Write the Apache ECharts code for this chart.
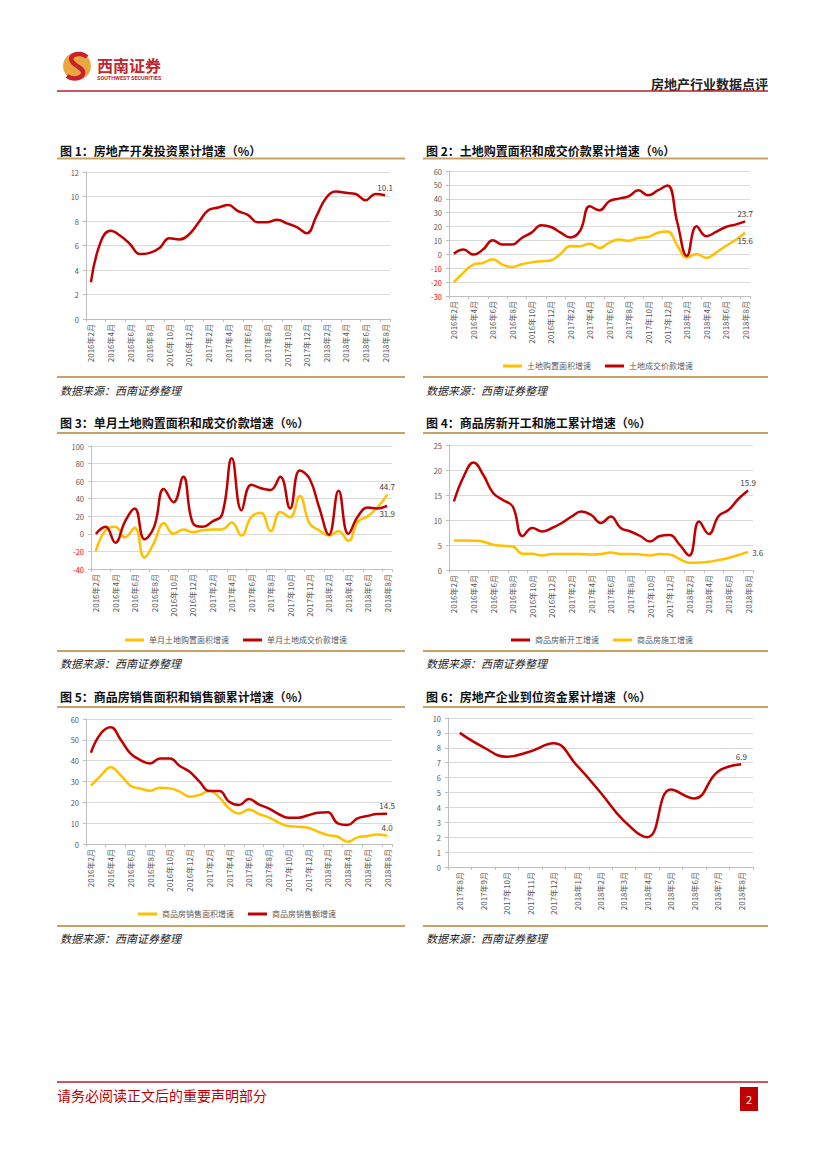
<!DOCTYPE html>
<html><head><meta charset="utf-8">
<script src="https://cdn.jsdelivr.net/npm/echarts@6/dist/echarts.min.js"></script>
<style>html,body{margin:0;padding:0;background:#fff}#c{width:827px;height:1169px}</style>
</head><body><div id="c"></div>
<script>
// ---------- data ----------
const months = ['2016年2月','2016年3月','2016年4月','2016年5月','2016年6月','2016年7月','2016年8月','2016年9月','2016年10月','2016年11月','2016年12月',
  '2017年1月','2017年2月','2017年3月','2017年4月','2017年5月','2017年6月','2017年7月','2017年8月','2017年9月','2017年10月','2017年11月','2017年12月',
  '2018年1月','2018年2月','2018年3月','2018年4月','2018年5月','2018年6月','2018年7月','2018年8月'];
const months6 = ['2017年8月','2017年9月','2017年10月','2017年11月','2017年12月','2018年1月','2018年2月','2018年3月','2018年4月','2018年5月','2018年6月','2018年7月','2018年8月'];

const invest = [3.0,6.3,7.2,6.8,6.1,5.3,5.4,5.8,6.6,6.5,6.9,7.9,8.9,9.1,9.3,8.8,8.5,7.9,7.9,8.1,7.8,7.5,7.0,8.4,9.9,10.4,10.3,10.2,9.7,10.2,10.1];

const landArea = [-20,-13.2,-7.4,-6.2,-3.6,-7.4,-9.1,-7.2,-5.8,-5.0,-4.3,0.5,6.0,5.8,7.7,4.6,8.4,10.6,9.8,11.8,12.5,15.5,16.5,6.5,-2.2,0.2,-2.6,1.2,6.0,10.3,15.6];
const landPrice = [0.5,3.4,-0.2,3.4,10.1,7.0,7.0,11.8,15.6,20.9,19.7,15.6,12.2,17,34.6,31.7,38.2,40.1,41.8,46.1,42.5,46,49.5,23.3,-1.2,20.2,13.0,16.1,19.7,21.4,23.7];

const mLandArea = [-20,4,8,-4,7,-27,-10,12,0,5,2,4,5,5,13,-2,19,24,3,25,19,43,12,4,-2,3,-8,14,20,30,44.7];
const mLandPrice = [0,8,-10,14,29,-6,8,51,36,65,12,8,14,22,86,27,56,52,50,65,29,72,63,30,-1,49,0,20,30,29,31.9];

const newStart = [13.7,18.7,21.5,19.0,15.4,14.0,12.7,6.8,8.4,7.7,8.4,9.4,10.7,11.7,11.0,9.4,10.7,8.4,7.7,6.8,5.7,6.8,7.0,5.1,2.9,9.7,7.2,10.8,12.0,14.2,15.9];
const underConst = [5.9,5.9,5.85,5.65,5.05,4.85,4.7,3.25,3.25,2.9,3.2,3.2,3.2,3.2,3.1,3.2,3.5,3.2,3.2,3.1,2.9,3.2,3.1,2.2,1.45,1.5,1.65,2.0,2.4,3.0,3.6];

const salesArea = [28.0,32.8,36.8,33.1,28.0,26.6,25.6,27.0,26.7,25.1,22.7,23.5,25.6,22.4,17.1,14.7,16.6,14.4,12.8,10.4,8.6,8.3,7.8,5.9,4.3,3.5,1.1,3.2,3.8,4.6,4.0];
const salesAmt = [43.8,53.0,56.0,50.2,43.5,40.3,38.7,41.1,41.1,37.4,34.7,29.9,25.4,25.4,20.3,18.7,21.6,19.0,17.1,14.4,12.6,12.6,13.8,15.0,15.2,9.9,9.1,12.3,13.4,14.4,14.5];

const funds = [9.0,8.05,7.4,7.75,8.3,6.8,5.0,3.1,2.0,5.2,4.6,6.4,6.9];

const titles = ['图 1：房地产开发投资累计增速（%）','图 2：土地购置面积和成交价款累计增速（%）','图 3：单月土地购置面积和成交价款增速（%）',
  '图 4：商品房新开工和施工累计增速（%）','图 5：商品房销售面积和销售额累计增速（%）','图 6：房地产企业到位资金累计增速（%）'];

// ---------- style ----------
const RED = '#C00000', YEL = '#FFC000', GOLD = '#C9A266', GRAY = '#595959', GRID = '#D9D9D9';
const FF = '"Noto Sans CJK SC", "Noto Sans", sans-serif';

const grids = [
  {left:86, top:172, width:304, height:147},
  {left:449, top:171, width:301, height:125},
  {left:91, top:446, width:301, height:123},
  {left:449, top:445, width:304, height:125},
  {left:86, top:719, width:306, height:125},
  {left:448, top:718, width:305, height:149}
];
const yCfg = [[0,12,2],[-30,60,10],[-40,100,20],[0,25,5],[0,60,10],[0,10,1]];

const xAxes = grids.map((g,i)=>({
  type:'category', gridIndex:i, data: i===5 ? months6 : months, boundaryGap:true,
  axisLine:{onZero:false, lineStyle:{color:'#BFBFBF'}},
  axisTick:{show:true, length:3, interval: i===5 ? 0 : 1, lineStyle:{color:'#BFBFBF'}},
  axisLabel:{rotate:90, interval: i===5 ? 0 : 1, fontSize: 8, color:GRAY, margin:5, fontFamily:FF}
}));
const yAxes = yCfg.map((c,i)=>({
  type:'value', gridIndex:i, min:c[0], max:c[1], interval:c[2],
  axisLine:{show:true, lineStyle:{color:'#BFBFBF'}},
  axisTick:{show:true, length:3, lineStyle:{color:'#BFBFBF'}},
  splitLine:{lineStyle:{color:GRID}},
  axisLabel:{fontSize:7.5, margin:7, fontFamily:FF, color:(v)=> Number(v) < 0 ? '#FF0000' : GRAY}
}));

const LBL = {fontSize:8, color:'#404040', fontFamily:FF, distance:4, textBorderWidth:0};
function lastLabel(arr, pos, fmt){
  return arr.map((v,i)=> i===arr.length-1 ? {value:v, label:Object.assign({show:true, position:pos, formatter: fmt}, LBL)} : v);
}
function ser(name, data, color, idx, pos, fmt){
  return {name, type:'line', xAxisIndex:idx, yAxisIndex:idx, data:lastLabel(data,pos,fmt), smooth:0.45,
    symbol:'circle', symbolSize:0.1, showSymbol:true, showAllSymbol:true,
    lineStyle:{width:2.5, color}, itemStyle:{color}, label:Object.assign({show:false}, LBL), z:3};
}
const series = [
  ser('房地产开发投资累计增速', invest, RED, 0, 'top', '10.1'),
  ser('土地购置面积增速', landArea, YEL, 1, 'bottom', '15.6'),
  ser('土地成交价款增速', landPrice, RED, 1, 'top', '23.7'),
  ser('单月土地购置面积增速', mLandArea, YEL, 2, 'top', '44.7'),
  ser('单月土地成交价款增速', mLandPrice, RED, 2, 'bottom', '31.9'),
  ser('商品房新开工增速', newStart, RED, 3, 'top', '15.9'),
  ser('商品房施工增速', underConst, YEL, 3, 'right', '3.6'),
  ser('商品房销售面积增速', salesArea, YEL, 4, 'top', '4.0'),
  ser('商品房销售额增速', salesAmt, RED, 4, 'top', '14.5'),
  ser('房地产企业到位资金累计增速', funds, RED, 5, 'top', '6.9')
];

function leg(names, left, top){
  return {data:names, left, top, icon:'rect', itemWidth:19, itemHeight:3, itemGap:14,
    textStyle:{fontSize:8, color:GRAY, fontFamily:FF}, selectedMode:false};
}
const legends = [
  leg(['土地购置面积增速','土地成交价款增速'], 498, 357),
  leg(['单月土地购置面积增速','单月土地成交价款增速'], 120, 631),
  leg(['商品房新开工增速','商品房施工增速'], 506, 631),
  leg(['商品房销售面积增速','商品房销售额增速'], 133, 905)
];

// ---------- page graphics ----------
const g = [];
function txt(x,y,text,font,fill,align){ g.push({type:'text', silent:true, style:{x,y,text,font,fill,align:align||'left',verticalAlign:'middle'}}); }
function ln(x1,y1,x2,y2,stroke,w){ g.push({type:'line', silent:true, shape:{x1,y1,x2,y2}, style:{stroke,lineWidth:w}}); }

// logo
g.push({type:'circle', silent:true, shape:{cx:77, cy:66, r:14}, style:{fill:'#EAA640'}});
g.push({type:'bezierCurve', silent:true, shape:{x1:87, y1:57, cpx1:80, cpy1:50, cpx2:62, cpy2:56, x2:77, y2:66}, style:{stroke:'#C8202F', lineWidth:4.5, fill:'none'}});
g.push({type:'bezierCurve', silent:true, shape:{x1:77, y1:66, cpx1:92, cpy1:74, cpx2:76, cpy2:83, x2:67, y2:76}, style:{stroke:'#C8202F', lineWidth:4.5, fill:'none'}});
txt(97, 65, '西南证券', 'bold 16px ' + FF, '#C1272D');
txt(97, 78, 'SOUTHWEST SECURITIES', 'bold 5.5px Roboto, sans-serif', '#C1272D');
txt(768, 83, '房地产行业数据点评', 'bold 13px ' + FF, '#222', 'right');
ln(57, 91, 768, 91, '#B5202E', 1.5);

// chart frames
const cols = [[57,405],[423,768]];
const rows = [{t:150, l:158.5, b:377, s:390},{t:422, l:433, b:651, s:663},{t:696, l:707, b:926, s:938}];
titles.forEach((t,i)=>{
  const c = cols[i%2], r = rows[Math.floor(i/2)];
  txt(c[0]+3, r.t, t, 'bold 12px ' + FF, '#111');
  ln(c[0], r.l, c[1], r.l, GOLD, 2);
  ln(c[0], r.b, c[1], r.b, GOLD, 2);
  txt(c[0]+3, r.s, '数据来源：西南证券整理', 'italic 11px ' + FF, '#222');
});

// footer
ln(57, 1082, 768, 1082, '#B5202E', 1.5);
txt(57, 1095, '请务必阅读正文后的重要声明部分', '14px ' + FF, '#C00000');
g.push({type:'rect', silent:true, shape:{x:740, y:1087, width:18, height:24}, style:{fill:'#C00000'}});
txt(749, 1099, '2', '11px ' + FF, '#fff', 'center');

const chart = echarts.init(document.getElementById('c'), null, {renderer:'svg', width:827, height:1169});
chart.setOption({
  animation:false,
  textStyle:{fontFamily:FF},
  grid:grids, xAxis:xAxes, yAxis:yAxes, legend:legends, series, graphic:g
});
</script></body></html>
